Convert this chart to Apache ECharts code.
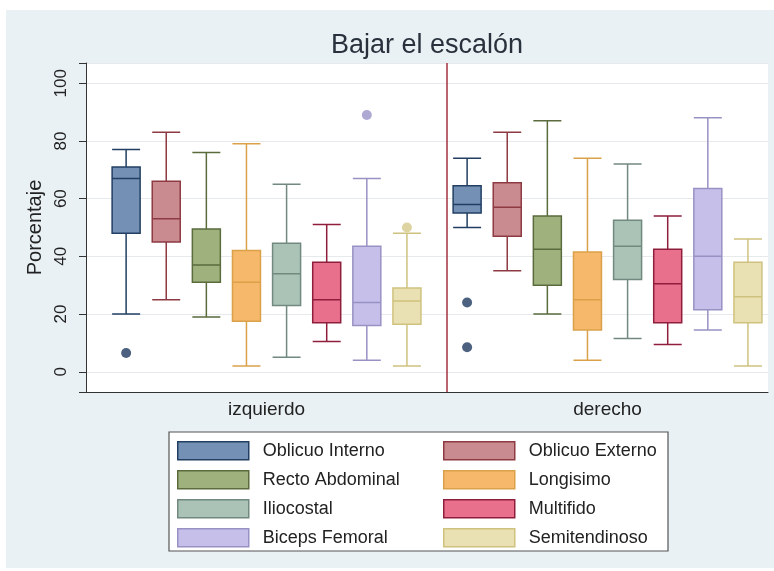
<!DOCTYPE html>
<html>
<head>
<meta charset="utf-8">
<title>Bajar el escalón</title>
<script src="https://cdn.jsdelivr.net/npm/echarts@6/dist/echarts.min.js"></script>
<style>
  html, body { margin: 0; padding: 0; background: #ffffff; }
  #chart { width: 774px; height: 571px; }
</style>
</head>
<body>
<div id="chart"></div>
<script>
// Groups on the horizontal axis
const categories = ['izquierdo', 'derecho'];

// One box per muscle in each group
const muscles = [
  'Oblicuo Interno', 'Oblicuo Externo', 'Recto Abdominal', 'Longisimo',
  'Iliocostal', 'Multifido', 'Biceps Femoral', 'Semitendinoso'
];

// [min, Q1, median, Q3, max] per muscle
const izquierdo = [
  [20, 48, 67, 71, 77],
  [25, 45, 53, 66, 83],
  [19, 31, 37, 49.5, 76],
  [2, 17.5, 31, 42, 79],
  [5, 23, 34, 44.5, 65],
  [10.5, 17, 25, 38, 51],
  [4, 16, 24, 43.5, 67],
  [2, 16.5, 24.5, 29, 48]
];
const derecho = [
  [50, 55, 58, 64.5, 74],
  [35, 47, 57, 65.5, 83],
  [20, 30, 42.5, 54, 87],
  [4, 14.5, 25, 41.5, 74],
  [11.5, 32, 43.5, 52.5, 72],
  [9.5, 17, 30.5, 42.5, 54],
  [14.5, 21.5, 40, 63.5, 88],
  [2, 17, 26, 38, 46]
];

// Outside values: [muscle index, group index, value]
const outliers = [
  [0, 0, 6.5],
  [6, 0, 89],
  [7, 0, 50],
  [0, 1, 24],
  [0, 1, 8.5]
];

const yTicks = [0, 20, 40, 60, 80, 100];

// Fill and outline colours per muscle
const fills = ['#7491b5', '#c98b90', '#9fb27e', '#f6b86a', '#abc3b7', '#e8708c', '#c5bfea', '#e9e0b3'];
const strokes = ['#223f63', '#8e3a43', '#5a6b3c', '#dba14a', '#71897f', '#8f1e3c', '#9892c4', '#cfc27f'];
const dotColors = ['#1f3a5f', '#8e3a43', '#5a6b3c', '#dba14a', '#71897f', '#8f1e3c', '#9a94c8', '#d6c98a'];

// Slot grid along x: each group holds its boxes two slots apart,
// with a wider gap between the groups.
const GROUP_STRIDE = 17;
const FIRST_SLOT = 2;
const BOX_STRIDE = 2;
const SLOT_COUNT = FIRST_SLOT * 2 + GROUP_STRIDE + BOX_STRIDE * (muscles.length - 1);
const slotOf = (g, m) => FIRST_SLOT + GROUP_STRIDE * g + BOX_STRIDE * m;
const groupCenter = g => FIRST_SLOT + GROUP_STRIDE * g + BOX_STRIDE * (muscles.length - 1) / 2;

const slotLabels = [];
for (let i = 0; i < SLOT_COUNT; i++) slotLabels.push('');
categories.forEach((c, g) => { slotLabels[groupCenter(g)] = c; });

const groupStats = [izquierdo, derecho];

// Each muscle gets its own (hidden) copy of the x axis so the boxes are
// placed exactly on their slots instead of being spread within a band.
const xAxes = muscles.map((m, i) => ({
  type: 'category',
  gridIndex: 0,
  data: slotLabels,
  boundaryGap: false,
  show: i === 0,
  axisLine: { onZero: false, lineStyle: { color: '#333333', width: 1 } },
  axisTick: { show: false },
  axisLabel: {
    interval: 0,
    fontSize: 19,
    color: '#222222',
    margin: 8,
    fontFamily: 'Liberation Sans, Arial, sans-serif'
  },
  splitLine: { show: false }
}));

const boxSeries = muscles.map((name, m) => {
  const s = {
    name: name,
    type: 'boxplot',
    xAxisIndex: m,
    yAxisIndex: 0,
    encode: { x: 0, y: [1, 2, 3, 4, 5] },
    boxWidth: [28, 28],
    itemStyle: { color: fills[m], borderColor: strokes[m], borderWidth: 1.5 },
    emphasis: { disabled: true },
    data: groupStats.map((stats, g) => [slotOf(g, m)].concat(stats[m]))
  };
  if (m === 0) {
    // separator between the two groups
    s.markLine = {
      silent: true,
      symbol: 'none',
      label: { show: false },
      lineStyle: { color: '#a3303f', width: 1.5, type: 'solid' },
      data: [{ xAxis: (slotOf(0, muscles.length - 1) + slotOf(1, 0)) / 2 }]
    };
  }
  return s;
});

const dotSeries = muscles.map((name, m) => ({
  name: name,
  type: 'scatter',
  xAxisIndex: 0,
  yAxisIndex: 0,
  symbol: 'circle',
  symbolSize: 10,
  itemStyle: { color: dotColors[m] },
  emphasis: { disabled: true },
  data: outliers.filter(o => o[0] === m).map(o => [slotOf(o[1], m), o[2]])
})).filter(s => s.data.length > 0);

const legendItem = m => ({
  name: muscles[m],
  itemStyle: { color: fills[m], borderColor: strokes[m], borderWidth: 1.5 }
});
const legendBase = {
  orient: 'vertical',
  padding: 0,
  itemWidth: 71,
  itemHeight: 18,
  itemGap: 9.5,
  icon: 'rect',
  selectedMode: false,
  textStyle: {
    fontSize: 18,
    color: '#222222',
    fontFamily: 'Liberation Sans, Arial, sans-serif',
    padding: [0, 0, 0, 9]
  },
  top: 441
};

const chart = echarts.init(document.getElementById('chart'), null, { renderer: 'canvas' });
chart.setOption({
  backgroundColor: '#ffffff',
  animation: false,
  graphic: [
    { type: 'rect', z: -10, shape: { x: 6, y: 10, width: 768, height: 558 }, style: { fill: '#e9f1f4' } },
    { type: 'rect', z: 1, shape: { x: 169, y: 432, width: 499, height: 119 }, style: { fill: '#ffffff', stroke: '#555555', lineWidth: 1.2 } }
  ],
  title: {
    text: 'Bajar el escalón',
    left: 331,
    top: 32,
    padding: 0,
    textStyle: { fontSize: 27, fontWeight: 'normal', color: '#28313c', fontFamily: 'Liberation Sans, Arial, sans-serif' }
  },
  legend: [
    Object.assign({}, legendBase, { left: 177, data: [0, 2, 4, 6].map(legendItem) }),
    Object.assign({}, legendBase, { left: 443, data: [1, 3, 5, 7].map(legendItem) })
  ],
  grid: {
    left: 86,
    right: 6,
    top: 63,
    bottom: 179,
    show: true,
    backgroundColor: '#ffffff',
    borderWidth: 0
  },
  xAxis: xAxes,
  yAxis: {
    type: 'value',
    min: -7,
    max: 107,
    name: 'Porcentaje',
    nameLocation: 'middle',
    nameRotate: 90,
    nameGap: 38,
    nameTextStyle: { fontSize: 20, color: '#222222', fontFamily: 'Liberation Sans, Arial, sans-serif' },
    axisLine: { show: true, lineStyle: { color: '#333333', width: 1 } },
    axisTick: { show: true, length: 7, lineStyle: { color: '#333333' } },
    axisLabel: {
      customValues: yTicks,
      rotate: 90,
      fontSize: 17,
      color: '#222222',
      margin: 16,
      fontFamily: 'Liberation Sans, Arial, sans-serif'
    },
    splitLine: { show: true, lineStyle: { color: '#e6eaec', width: 1 } }
  },
  series: boxSeries.concat(dotSeries)
});
</script>
</body>
</html>
